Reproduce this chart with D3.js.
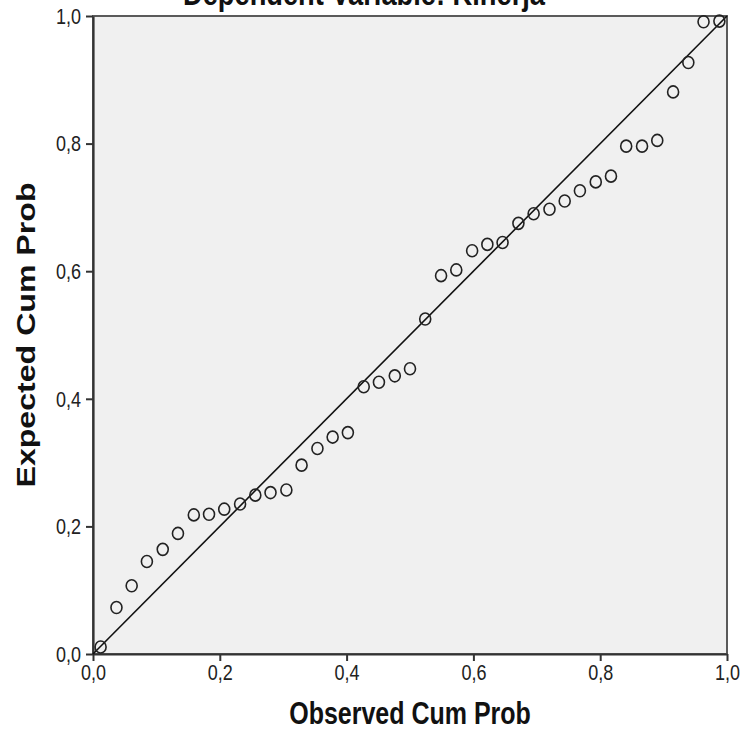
<!DOCTYPE html>
<html>
<head>
<meta charset="utf-8">
<script src="https://cdn.jsdelivr.net/npm/d3@7/dist/d3.min.js"></script>
<style>
  body { margin: 0; background: #fff; }
  svg { display: block; font-family: "Liberation Sans", Arial, sans-serif; }
</style>
</head>
<body>
<div id="elements"></div>
<script>
// observed / expected cumulative probabilities
var observed = [0.012, 0.037, 0.061, 0.085, 0.110, 0.134, 0.159, 0.183, 0.207, 0.232,
                0.256, 0.280, 0.305, 0.329, 0.354, 0.378, 0.402, 0.427, 0.451, 0.476,
                0.500, 0.524, 0.549, 0.573, 0.598, 0.622, 0.646, 0.671, 0.695, 0.720,
                0.744, 0.768, 0.793, 0.817, 0.841, 0.866, 0.890, 0.915, 0.939, 0.963, 0.988];
var expected = [0.011, 0.073, 0.107, 0.145, 0.164, 0.189, 0.218, 0.219, 0.227, 0.235,
                0.249, 0.253, 0.257, 0.296, 0.322, 0.340, 0.347, 0.419, 0.426, 0.436,
                0.447, 0.525, 0.593, 0.602, 0.632, 0.642, 0.645, 0.675, 0.690, 0.697,
                0.710, 0.726, 0.740, 0.749, 0.796, 0.796, 0.805, 0.881, 0.927, 0.991, 0.992];
var tickValues = [0, 0.2, 0.4, 0.6, 0.8, 1.0];
var refLine = [0, 1];
var titleText = "Dependent Variable: Kinerja",
    xTitle = "Observed Cum Prob",
    yTitle = "Expected Cum Prob";

var width = 746,
    height = 731,
    plot = {left: 93, right: 727, top: 16, bottom: 654},
    stretch = 1.25;

var svg = d3.select("#elements").append("svg")
    .attr("width", width)
    .attr("height", height);

var x = d3.scaleLinear().domain([0, 1]).range([plot.left, plot.right]);
var y = d3.scaleLinear().domain([0, 1]).range([plot.bottom, plot.top]);
var fmt = function(d) { return d.toFixed(1).replace(".", ","); };

// plot background + frame
svg.append("rect")
    .attr("x", plot.left)
    .attr("y", plot.top)
    .attr("width", plot.right - plot.left)
    .attr("height", plot.bottom - plot.top)
    .attr("fill", "#f0f0f0")
    .attr("stroke", "#5a5a5a")
    .attr("stroke-width", 2);

// title (cut off at the top like the original)
svg.append("text")
    .attr("transform", "translate(364,5) scale(1," + stretch + ")")
    .attr("text-anchor", "middle")
    .attr("font-size", 26)
    .attr("font-weight", "bold")
    .attr("textLength", 362)
    .attr("lengthAdjust", "spacingAndGlyphs")
    .attr("fill", "#111")
    .text(titleText);

// axes
var xAxis = svg.append("g")
    .attr("transform", "translate(0," + plot.bottom + ")")
    .call(d3.axisBottom(x).tickValues(tickValues).tickFormat(fmt).tickSizeInner(7).tickSizeOuter(0));

var yAxis = svg.append("g")
    .attr("transform", "translate(" + plot.left + ",0)")
    .call(d3.axisLeft(y).tickValues(tickValues).tickFormat(fmt).tickSizeInner(7).tickSizeOuter(0).tickPadding(5));

[xAxis, yAxis].forEach(function(g) {
  g.attr("font-family", null).attr("font-size", null);
  g.select(".domain").attr("stroke", "#333").attr("stroke-width", 2.2);
  g.selectAll(".tick line").attr("stroke", "#333").attr("stroke-width", 2);
  g.selectAll(".tick text")
      .attr("font-size", 18)
      .attr("fill", "#222");
});

xAxis.selectAll(".tick text")
    .attr("y", 20.5)
    .attr("dy", 0)
    .attr("transform", "scale(1," + stretch + ")");
yAxis.selectAll(".tick text")
    .attr("transform", "scale(1," + stretch + ")");

// axis titles
svg.append("text")
    .attr("transform", "translate(" + x(0.5) + ",724) scale(1," + stretch + ")")
    .attr("text-anchor", "middle")
    .attr("font-size", 25)
    .attr("font-weight", "bold")
    .attr("fill", "#111")
    .text(xTitle);

svg.append("text")
    .attr("transform", "translate(35," + y(0.5) + ") rotate(-90)")
    .attr("text-anchor", "middle")
    .attr("font-size", 25)
    .attr("font-weight", "bold")
    .attr("textLength", 305)
    .attr("lengthAdjust", "spacingAndGlyphs")
    .attr("fill", "#111")
    .text(yTitle);

// reference line
svg.append("line")
    .attr("x1", x(refLine[0]))
    .attr("y1", y(refLine[0]))
    .attr("x2", x(refLine[1]))
    .attr("y2", y(refLine[1]))
    .attr("stroke", "#111")
    .attr("stroke-width", 1.6);

// points
svg.append("g")
  .selectAll("ellipse")
  .data(observed)
  .enter()
    .append("ellipse")
      .attr("cx", function(d) { return x(d); })
      .attr("cy", function(d, i) { return y(expected[i]); })
      .attr("rx", 5.5)
      .attr("ry", 6)
      .attr("fill", "none")
      .attr("stroke", "#222")
      .attr("stroke-width", 1.6);
</script>
</body>
</html>
